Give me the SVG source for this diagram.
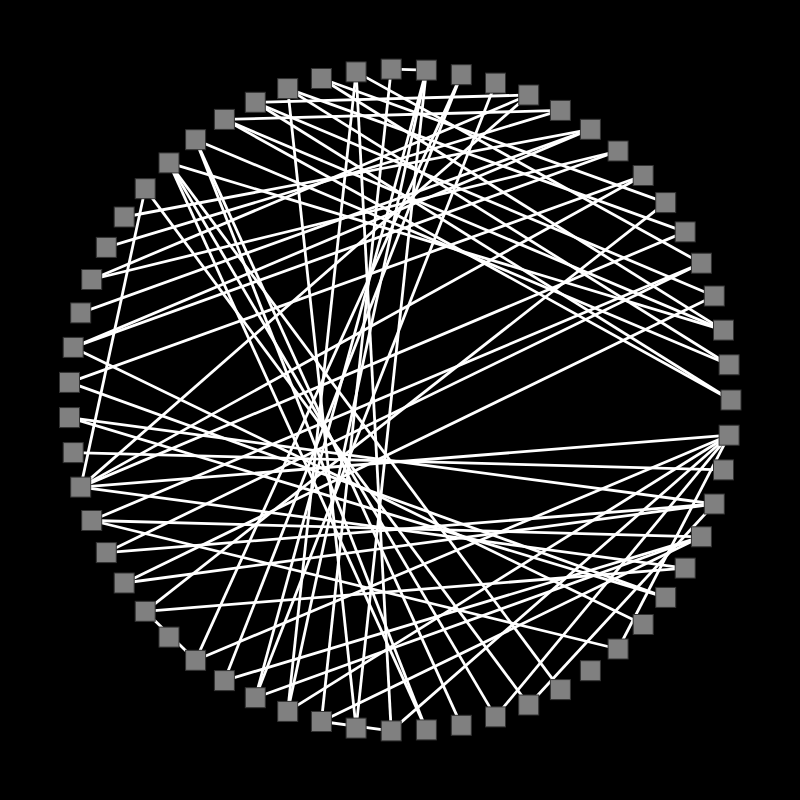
<svg xmlns="http://www.w3.org/2000/svg" width="800" height="800" viewBox="0 0 800 800">
<style>
.e{stroke:#fff;stroke-width:2.8;fill:none}
.n{fill:#808080;stroke:#333;stroke-width:1}
</style>
<rect width="800" height="800" fill="#000"/>
<g id="edges">
<line class="e" x1="731" y1="400" x2="224.4" y2="119.4"/>
<line class="e" x1="731" y1="400" x2="255.3" y2="102.3"/>
<line class="e" x1="729.1" y1="364.8" x2="195.6" y2="139.7"/>
<line class="e" x1="729.1" y1="364.8" x2="287.7" y2="88.6"/>
<line class="e" x1="723.5" y1="330.1" x2="169" y2="162.9"/>
<line class="e" x1="723.5" y1="330.1" x2="224.4" y2="119.4"/>
<line class="e" x1="723.5" y1="330.1" x2="321.4" y2="78.5"/>
<line class="e" x1="714.3" y1="296" x2="255.3" y2="102.3"/>
<line class="e" x1="714.3" y1="296" x2="124.2" y2="583"/>
<line class="e" x1="701.4" y1="263.2" x2="106.3" y2="552.6"/>
<line class="e" x1="701.4" y1="263.2" x2="91.7" y2="520.5"/>
<line class="e" x1="701.4" y1="263.2" x2="356.1" y2="71.9"/>
<line class="e" x1="685.2" y1="231.9" x2="287.7" y2="88.6"/>
<line class="e" x1="685.2" y1="231.9" x2="80.7" y2="487.1"/>
<line class="e" x1="643.2" y1="175.5" x2="80.7" y2="487.1"/>
<line class="e" x1="729.1" y1="435.2" x2="80.7" y2="487.1"/>
<line class="e" x1="729.1" y1="435.2" x2="195.6" y2="660.3"/>
<line class="e" x1="729.1" y1="435.2" x2="391.2" y2="730.9"/>
<line class="e" x1="729.1" y1="435.2" x2="287.7" y2="711.4"/>
<line class="e" x1="729.1" y1="435.2" x2="495.5" y2="716.9"/>
<line class="e" x1="729.1" y1="435.2" x2="618.1" y2="649"/>
<line class="e" x1="723.5" y1="469.9" x2="73.2" y2="452.6"/>
<line class="e" x1="714.3" y1="504" x2="106.3" y2="552.6"/>
<line class="e" x1="714.3" y1="504" x2="69.5" y2="417.6"/>
<line class="e" x1="714.3" y1="504" x2="124.2" y2="583"/>
<line class="e" x1="714.3" y1="504" x2="528.7" y2="705"/>
<line class="e" x1="701.4" y1="536.8" x2="91.7" y2="520.5"/>
<line class="e" x1="701.4" y1="536.8" x2="255.3" y2="697.7"/>
<line class="e" x1="701.4" y1="536.8" x2="321.4" y2="721.5"/>
<line class="e" x1="701.4" y1="536.8" x2="224.4" y2="680.6"/>
<line class="e" x1="685.2" y1="568.1" x2="80.7" y2="487.1"/>
<line class="e" x1="685.2" y1="568.1" x2="145.2" y2="611.3"/>
<line class="e" x1="665.7" y1="597.4" x2="69.5" y2="382.4"/>
<line class="e" x1="665.7" y1="597.4" x2="69.5" y2="417.6"/>
<line class="e" x1="643.2" y1="624.5" x2="73.2" y2="347.4"/>
<line class="e" x1="618.1" y1="649" x2="91.7" y2="520.5"/>
<line class="e" x1="73.2" y1="347.4" x2="590.4" y2="129.3"/>
<line class="e" x1="73.2" y1="347.4" x2="618.1" y2="151"/>
<line class="e" x1="80.7" y1="312.9" x2="590.4" y2="129.3"/>
<line class="e" x1="91.7" y1="279.5" x2="528.7" y2="95"/>
<line class="e" x1="91.7" y1="279.5" x2="618.1" y2="151"/>
<line class="e" x1="106.3" y1="247.4" x2="560.4" y2="110.4"/>
<line class="e" x1="69.5" y1="382.4" x2="643.2" y2="175.5"/>
<line class="e" x1="124.2" y1="217" x2="590.4" y2="129.3"/>
<line class="e" x1="80.7" y1="487.1" x2="528.7" y2="95"/>
<line class="e" x1="145.2" y1="611.3" x2="665.7" y2="202.6"/>
<line class="e" x1="195.6" y1="660.3" x2="461.3" y2="74.7"/>
<line class="e" x1="224.4" y1="680.6" x2="461.3" y2="74.7"/>
<line class="e" x1="195.6" y1="660.3" x2="145.2" y2="611.3"/>
<line class="e" x1="145.2" y1="188.7" x2="528.7" y2="705"/>
<line class="e" x1="145.2" y1="188.7" x2="80.7" y2="487.1"/>
<line class="e" x1="195.6" y1="139.7" x2="426.4" y2="729.9"/>
<line class="e" x1="169" y1="162.9" x2="426.4" y2="729.9"/>
<line class="e" x1="195.6" y1="139.7" x2="461.3" y2="725.3"/>
<line class="e" x1="169" y1="162.9" x2="495.5" y2="716.9"/>
<line class="e" x1="169" y1="162.9" x2="560.4" y2="689.6"/>
<line class="e" x1="321.4" y1="721.5" x2="391.2" y2="69.1"/>
<line class="e" x1="287.7" y1="711.4" x2="426.4" y2="70.1"/>
<line class="e" x1="287.7" y1="711.4" x2="356.1" y2="71.9"/>
<line class="e" x1="255.3" y1="697.7" x2="495.5" y2="83.1"/>
<line class="e" x1="255.3" y1="697.7" x2="426.4" y2="70.1"/>
<line class="e" x1="391.2" y1="730.9" x2="356.1" y2="71.9"/>
<line class="e" x1="356.1" y1="728.1" x2="287.7" y2="88.6"/>
<line class="e" x1="356.1" y1="728.1" x2="426.4" y2="70.1"/>
<line class="e" x1="391.2" y1="730.9" x2="321.4" y2="721.5"/>
<line class="e" x1="391.2" y1="69.1" x2="426.4" y2="70.1"/>
<line class="e" x1="224.4" y1="119.4" x2="560.4" y2="110.4"/>
<line class="e" x1="255.3" y1="102.3" x2="528.7" y2="95"/>
<line class="e" x1="321.4" y1="78.5" x2="665.7" y2="202.6"/>
</g>
<g id="nodes">
<g id="n0"><rect class="n" x="721" y="390" width="20" height="20"/></g>
<g id="n1"><rect class="n" x="719.1" y="425.2" width="20" height="20"/></g>
<g id="n2"><rect class="n" x="713.5" y="459.9" width="20" height="20"/></g>
<g id="n3"><rect class="n" x="704.3" y="494" width="20" height="20"/></g>
<g id="n4"><rect class="n" x="691.4" y="526.8" width="20" height="20"/></g>
<g id="n5"><rect class="n" x="675.2" y="558.1" width="20" height="20"/></g>
<g id="n6"><rect class="n" x="655.7" y="587.4" width="20" height="20"/></g>
<g id="n7"><rect class="n" x="633.2" y="614.5" width="20" height="20"/></g>
<g id="n8"><rect class="n" x="608.1" y="639" width="20" height="20"/></g>
<g id="n9"><rect class="n" x="580.4" y="660.7" width="20" height="20"/></g>
<g id="n10"><rect class="n" x="550.4" y="679.6" width="20" height="20"/></g>
<g id="n11"><rect class="n" x="518.7" y="695" width="20" height="20"/></g>
<g id="n12"><rect class="n" x="485.5" y="706.9" width="20" height="20"/></g>
<g id="n13"><rect class="n" x="451.3" y="715.3" width="20" height="20"/></g>
<g id="n14"><rect class="n" x="416.4" y="719.9" width="20" height="20"/></g>
<g id="n15"><rect class="n" x="381.2" y="720.9" width="20" height="20"/></g>
<g id="n16"><rect class="n" x="346.1" y="718.1" width="20" height="20"/></g>
<g id="n17"><rect class="n" x="311.4" y="711.5" width="20" height="20"/></g>
<g id="n18"><rect class="n" x="277.7" y="701.4" width="20" height="20"/></g>
<g id="n19"><rect class="n" x="245.3" y="687.7" width="20" height="20"/></g>
<g id="n20"><rect class="n" x="214.4" y="670.6" width="20" height="20"/></g>
<g id="n21"><rect class="n" x="185.6" y="650.3" width="20" height="20"/></g>
<g id="n22"><rect class="n" x="159" y="627.1" width="20" height="20"/></g>
<g id="n23"><rect class="n" x="135.2" y="601.3" width="20" height="20"/></g>
<g id="n24"><rect class="n" x="114.2" y="573" width="20" height="20"/></g>
<g id="n25"><rect class="n" x="96.3" y="542.6" width="20" height="20"/></g>
<g id="n26"><rect class="n" x="81.7" y="510.5" width="20" height="20"/></g>
<g id="n27"><rect class="n" x="70.7" y="477.1" width="20" height="20"/></g>
<g id="n28"><rect class="n" x="63.2" y="442.6" width="20" height="20"/></g>
<g id="n29"><rect class="n" x="59.5" y="407.6" width="20" height="20"/></g>
<g id="n30"><rect class="n" x="59.5" y="372.4" width="20" height="20"/></g>
<g id="n31"><rect class="n" x="63.2" y="337.4" width="20" height="20"/></g>
<g id="n32"><rect class="n" x="70.7" y="302.9" width="20" height="20"/></g>
<g id="n33"><rect class="n" x="81.7" y="269.5" width="20" height="20"/></g>
<g id="n34"><rect class="n" x="96.3" y="237.4" width="20" height="20"/></g>
<g id="n35"><rect class="n" x="114.2" y="207" width="20" height="20"/></g>
<g id="n36"><rect class="n" x="135.2" y="178.7" width="20" height="20"/></g>
<g id="n37"><rect class="n" x="159" y="152.9" width="20" height="20"/></g>
<g id="n38"><rect class="n" x="185.6" y="129.7" width="20" height="20"/></g>
<g id="n39"><rect class="n" x="214.4" y="109.4" width="20" height="20"/></g>
<g id="n40"><rect class="n" x="245.3" y="92.3" width="20" height="20"/></g>
<g id="n41"><rect class="n" x="277.7" y="78.6" width="20" height="20"/></g>
<g id="n42"><rect class="n" x="311.4" y="68.5" width="20" height="20"/></g>
<g id="n43"><rect class="n" x="346.1" y="61.9" width="20" height="20"/></g>
<g id="n44"><rect class="n" x="381.2" y="59.1" width="20" height="20"/></g>
<g id="n45"><rect class="n" x="416.4" y="60.1" width="20" height="20"/></g>
<g id="n46"><rect class="n" x="451.3" y="64.7" width="20" height="20"/></g>
<g id="n47"><rect class="n" x="485.5" y="73.1" width="20" height="20"/></g>
<g id="n48"><rect class="n" x="518.7" y="85" width="20" height="20"/></g>
<g id="n49"><rect class="n" x="550.4" y="100.4" width="20" height="20"/></g>
<g id="n50"><rect class="n" x="580.4" y="119.3" width="20" height="20"/></g>
<g id="n51"><rect class="n" x="608.1" y="141" width="20" height="20"/></g>
<g id="n52"><rect class="n" x="633.2" y="165.5" width="20" height="20"/></g>
<g id="n53"><rect class="n" x="655.7" y="192.6" width="20" height="20"/></g>
<g id="n54"><rect class="n" x="675.2" y="221.9" width="20" height="20"/></g>
<g id="n55"><rect class="n" x="691.4" y="253.2" width="20" height="20"/></g>
<g id="n56"><rect class="n" x="704.3" y="286" width="20" height="20"/></g>
<g id="n57"><rect class="n" x="713.5" y="320.1" width="20" height="20"/></g>
<g id="n58"><rect class="n" x="719.1" y="354.8" width="20" height="20"/></g>
</g>
</svg>
